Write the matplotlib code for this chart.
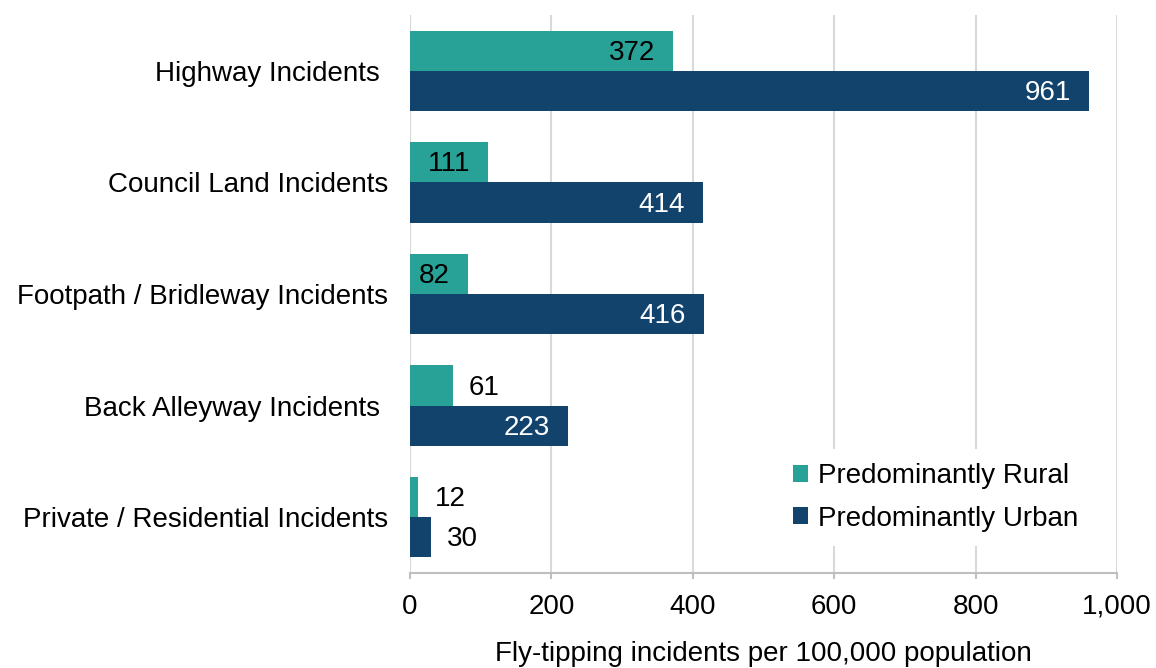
import numpy as np
import matplotlib.pyplot as plt

# data
categories = ['Highway Incidents ', 'Council Land Incidents', 'Footpath / Bridleway Incidents',
              'Back Alleyway Incidents ', 'Private / Residential Incidents']
rural = [372, 111, 82, 61, 12]
urban = [961, 414, 416, 223, 30]
series_names = ['Predominantly Rural', 'Predominantly Urban']
xticks = [0, 200, 400, 600, 800, 1000]
xticklabels = ['0', '200', '400', '600', '800', '1,000']

plt.rcParams['font.family'] = ['Liberation Sans', 'DejaVu Sans']
FS = 20
TEAL = '#28A197'
NAVY = '#12436D'
GRID = '#D9D9D9'

fig = plt.figure(figsize=(11.56, 6.68), dpi=100)
ax = fig.add_axes([410/1156, 1-573/668, 707/1156, 558/668])

y = np.arange(len(categories))
h = 0.36
b1 = ax.barh(y - h/2, rural, height=h, color=TEAL, label=series_names[0], zorder=3)
b2 = ax.barh(y + h/2, urban, height=h, color=NAVY, label=series_names[1], zorder=3)

#labels inside the bar end if long enough, otherwise just outside
def put_labels(bars, vals, incol):
    for bar, v in zip(bars, vals):
        yc = bar.get_y() + bar.get_height()/2
        if v > 70:
            ax.annotate(str(v), (v, yc), xytext=(-13, -1.5), textcoords='offset points',
                        ha='right', va='center', fontsize=FS, color=incol, zorder=4)
        else:
            ax.annotate(str(v), (v, yc), xytext=(11.5, -1.5), textcoords='offset points',
                        ha='left', va='center', fontsize=FS, color='black', zorder=4)

put_labels(b1, rural, 'black')
put_labels(b2, urban, 'white')

ax.set_xlim(0, 1000)
ax.set_ylim(len(categories) - 0.5, -0.5)
ax.set_yticks(y)
ax.set_yticklabels(categories, fontsize=FS)
ax.set_xticks(xticks)
ax.set_xticklabels(xticklabels, fontsize=FS)
ax.tick_params(axis='y', length=0, pad=16)
ax.tick_params(axis='x', length=4, width=1.5, color='#BFBFBF', pad=11)

ax.grid(axis='x', color=GRID, linewidth=1.5, zorder=0)
ax.set_axisbelow(True)
for s in ['top', 'right', 'left']:
    ax.spines[s].set_visible(False)
ax.spines['bottom'].set_color('#BFBFBF')
ax.spines['bottom'].set_linewidth(1.5)

ax.set_xlabel('Fly-tipping incidents per 100,000 population', fontsize=FS, labelpad=15)

leg = ax.legend(loc='upper left', bbox_to_anchor=(0.522, 0.222), fontsize=FS,
                frameon=True, facecolor='white', edgecolor='none', framealpha=1,
                handlelength=0.55, handleheight=0.55, handletextpad=0.35,
                labelspacing=0.6, borderpad=0.5, borderaxespad=0, fancybox=False)

fig.savefig('out.png', dpi=100)
